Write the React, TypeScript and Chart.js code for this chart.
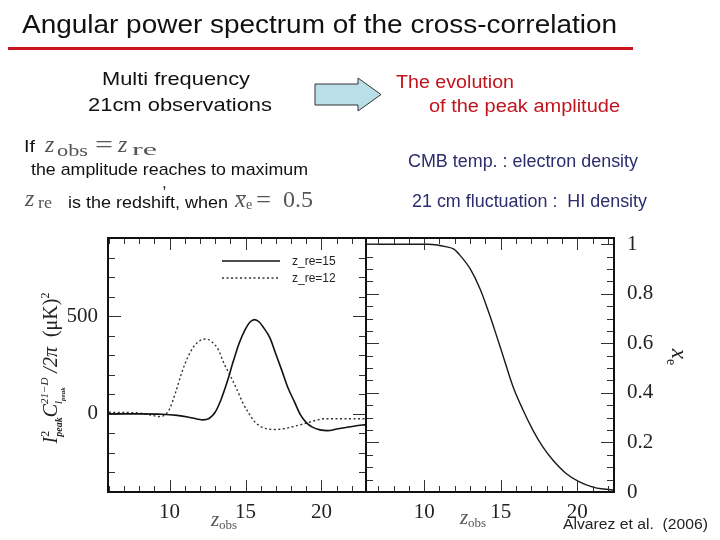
import React, { useEffect, useRef } from "react";
import { Chart, registerables } from "chart.js";
Chart.register(...registerables);

// ---------------- data ----------------
const seriesLabels = ["z_re=15", "z_re=12"];
const zSolid = [6, 8, 9.5, 10.5, 11.2, 11.8, 12.2, 12.6, 13.0, 13.4, 13.8, 14.2, 14.6, 15.0, 15.3, 15.6, 15.9, 16.2, 16.6, 17.0, 17.4, 17.8, 18.2, 18.6, 19.0, 19.4, 19.9, 20.4, 21.0, 21.6, 22.2, 22.93];
const ampSolid = [0, 0, -2, -8, -16, -26, -31, -24, 8, 75, 165, 270, 365, 435, 470, 482, 470, 440, 390, 305, 220, 132, 65, -3, -45, -68, -82, -86, -78, -70, -62, -55];
const zDotted = [6, 7, 8, 8.7, 9.3, 9.7, 10.0, 10.4, 10.8, 11.2, 11.6, 12.0, 12.4, 12.8, 13.2, 13.6, 14.0, 14.4, 14.8, 15.2, 15.6, 16.0, 16.5, 17.0, 17.6, 18.2, 18.8, 19.4, 19.8, 20.2, 21, 22, 22.93];
const ampDotted = [8, 7, 4, -5, -14, -5, 25, 110, 210, 290, 345, 375, 383, 368, 330, 255, 195, 130, 60, 5, -40, -65, -78, -80, -75, -64, -52, -38, -30, -25, -25, -25, -25];
const zXe = [6.2, 10.2, 10.86, 11.4, 11.94, 12.37, 13.01, 13.66, 14.3, 14.73, 15.16, 15.8, 16.45, 17.1, 17.74, 18.39, 19.25, 20.11, 20.97, 21.7, 22.4];
const xeValues = [1, 1, 0.997, 0.99, 0.98, 0.953, 0.9, 0.818, 0.71, 0.63, 0.548, 0.426, 0.332, 0.25, 0.183, 0.13, 0.076, 0.042, 0.021, 0.012, 0.008];
const zTickLabels = [10, 15, 20];
const ampTickLabels = [0, 500];
const xeTickLabels = [0, 0.2, 0.4, 0.6, 0.8, 1];

// ---------------- styling ----------------
const SERIF = '"Liberation Serif", "Times New Roman", serif';
const SANS = '"Liberation Sans", Arial, sans-serif';
const INK = "#111";
const MATH = "#555";

type Part = { t: string; font: string; dy?: number; mark?: boolean; back?: boolean; after?: boolean };

function drawRich(ctx: CanvasRenderingContext2D, parts: Part[], cx: number, cy: number, rot: number, color: string) {
  let cursor = 0, maxEnd = 0, markX = 0;
  const items: { p: Part; x: number }[] = [];
  for (const p of parts) {
    if (p.after) cursor = maxEnd;
    if (p.back) cursor = markX;
    if (p.mark) markX = cursor;
    ctx.font = p.font;
    const w = ctx.measureText(p.t).width;
    items.push({ p, x: cursor });
    cursor += w;
    maxEnd = Math.max(maxEnd, cursor);
  }
  ctx.save();
  ctx.translate(cx, cy);
  ctx.rotate(rot);
  ctx.fillStyle = color;
  ctx.textAlign = "left";
  ctx.textBaseline = "alphabetic";
  const x0 = -maxEnd / 2;
  for (const it of items) {
    ctx.font = it.p.font;
    ctx.fillText(it.p.t, x0 + it.x, it.p.dy || 0);
  }
  ctx.restore();
}

type TitleItem = { parts: Part[]; ax: "left" | "right"; dx: number; ay: "top" | "bottom"; dy: number; rot: number; color: string };

function makeTitlesPlugin(items: TitleItem[]) {
  return {
    id: "richTitles",
    afterDraw(chart: any) {
      const a = chart.chartArea;
      for (const it of items) {
        drawRich(chart.ctx, it.parts, a[it.ax] + it.dx, a[it.ay] + it.dy, it.rot, it.color);
      }
    },
  };
}

function makeFramePlugin(cfg: { xMinor: number; xMajor: number; yMinor: number; yMajor: number }) {
  return {
    id: "frameTicks",
    afterDatasetsDraw(chart: any) {
      const { ctx, chartArea: a, scales } = chart;
      const xs = scales.x, ys = scales.y;
      ctx.save();
      ctx.strokeStyle = "#333";
      ctx.lineWidth = 1;
      ctx.beginPath();
      const isMajor = (v: number, m: number) => Math.abs(v / m - Math.round(v / m)) < 1e-6;
      for (let k = Math.ceil(xs.min / cfg.xMinor - 1e-9); k <= Math.floor(xs.max / cfg.xMinor + 1e-9); k++) {
        const v = k * cfg.xMinor;
        const len = isMajor(v, cfg.xMajor) ? 12 : 6;
        const px = Math.round(xs.getPixelForValue(v)) + 0.5;
        ctx.moveTo(px, a.bottom); ctx.lineTo(px, a.bottom - len);
        ctx.moveTo(px, a.top); ctx.lineTo(px, a.top + len);
      }
      for (let k = Math.ceil(ys.min / cfg.yMinor - 1e-9); k <= Math.floor(ys.max / cfg.yMinor + 1e-9); k++) {
        const v = k * cfg.yMinor;
        const len = isMajor(v, cfg.yMajor) ? 13 : 7;
        const py = Math.round(ys.getPixelForValue(v)) + 0.5;
        ctx.moveTo(a.left, py); ctx.lineTo(a.left + len, py);
        ctx.moveTo(a.right, py); ctx.lineTo(a.right - len, py);
      }
      ctx.stroke();
      ctx.lineWidth = 2;
      ctx.strokeStyle = INK;
      ctx.strokeRect(a.left, a.top, a.right - a.left, a.bottom - a.top);
      ctx.restore();
    },
  };
}

function makeLegendPlugin(cfg: { left: number; top: number; len: number; gap: number; textGap: number }) {
  return {
    id: "inlineLegend",
    afterDatasetsDraw(chart: any) {
      const { ctx, chartArea: a } = chart;
      chart.data.datasets.forEach((ds: any, i: number) => {
        const y = a.top + cfg.top + i * cfg.gap;
        ctx.save();
        ctx.strokeStyle = ds.borderColor;
        ctx.lineWidth = ds.borderWidth;
        ctx.setLineDash(ds.borderDash || []);
        ctx.beginPath();
        ctx.moveTo(a.left + cfg.left, y);
        ctx.lineTo(a.left + cfg.left + cfg.len, y);
        ctx.stroke();
        ctx.setLineDash([]);
        ctx.fillStyle = "#222";
        ctx.font = `12px ${SANS}`;
        ctx.textBaseline = "middle";
        ctx.textAlign = "left";
        ctx.fillText(ds.label, a.left + cfg.left + cfg.len + cfg.textGap, y + 0.5);
        ctx.restore();
      });
    },
  };
}

const tickFont = { family: SERIF, size: 21 };
const zObsParts: Part[] = [
  { t: "z", font: `italic 21px ${SERIF}` },
  { t: "obs", font: `13px ${SERIF}`, dy: 3 },
];

function leftConfig(): any {
  return {
    type: "line",
    data: {
      datasets: [
        { label: seriesLabels[0], data: zSolid.map((z, i) => ({ x: z, y: ampSolid[i] })), borderColor: "#111", borderWidth: 1.6, pointRadius: 0, cubicInterpolationMode: "monotone", fill: false },
        { label: seriesLabels[1], data: zDotted.map((z, i) => ({ x: z, y: ampDotted[i] })), borderColor: "#333", borderWidth: 1.4, borderDash: [2, 2.5], pointRadius: 0, cubicInterpolationMode: "monotone", fill: false },
      ],
    },
    options: {
      responsive: false,
      animation: false,
      events: [],
      layout: { padding: { left: 68, top: 238, right: 354, bottom: 18 } },
      scales: {
        x: {
          type: "linear", min: 5.95, max: 22.93,
          afterBuildTicks: (s: any) => { s.ticks = zTickLabels.map((v) => ({ value: v })); },
          afterFit: (s: any) => { s.height = 30; },
          grid: { display: false, drawTicks: false }, border: { display: false },
          ticks: { font: tickFont, color: "#222", padding: 8, autoSkip: false, maxRotation: 0 },
        },
        y: {
          type: "linear", min: -400, max: 900,
          afterBuildTicks: (s: any) => { s.ticks = ampTickLabels.map((v) => ({ value: v })); },
          afterFit: (s: any) => { s.width = 40; },
          grid: { display: false, drawTicks: false }, border: { display: false },
          ticks: { font: tickFont, color: "#222", padding: 10, autoSkip: false },
        },
      },
      plugins: { legend: { display: false }, tooltip: { enabled: false } },
    },
    plugins: [
      makeFramePlugin({ xMinor: 1, xMajor: 5, yMinor: 100, yMajor: 500 }),
      makeLegendPlugin({ left: 114, top: 23, len: 58, gap: 17, textGap: 12 }),
      makeTitlesPlugin([
        { parts: zObsParts, ax: "left", dx: 116, ay: "bottom", dy: 34, rot: 0, color: MATH },
        {
          parts: [
            { t: "I", font: `italic 20px ${SERIF}` },
            { t: "2", font: `12px ${SERIF}`, dy: -8, mark: true },
            { t: "peak", font: `italic bold 10px ${SERIF}`, dy: 5, back: true },
            { t: "C", font: `italic 20px ${SERIF}`, after: true },
            { t: "21\u2212D", font: `italic 11px ${SERIF}`, dy: -9, mark: true },
            { t: "l", font: `italic 11px ${SERIF}`, dy: 5, back: true },
            { t: "peak", font: `italic bold 7px ${SERIF}`, dy: 8 },
            { t: " /2\u03c0", font: `italic 20px ${SERIF}`, after: true },
            { t: "  (\u03bcK)", font: `20px ${SERIF}` },
            { t: "2", font: `12px ${SERIF}`, dy: -8 },
          ],
          ax: "left", dx: -51, ay: "top", dy: 130, rot: -Math.PI / 2, color: "#222",
        },
      ]),
    ],
  };
}

function rightConfig(): any {
  return {
    type: "line",
    data: {
      datasets: [
        { label: "x_e", data: zXe.map((z, i) => ({ x: z, y: xeValues[i] })), borderColor: "#1a1a1a", borderWidth: 1.4, pointRadius: 0, cubicInterpolationMode: "monotone", fill: false },
      ],
    },
    options: {
      responsive: false,
      animation: false,
      events: [],
      layout: { padding: { left: 366, top: 238, right: 56, bottom: 18 } },
      scales: {
        x: {
          type: "linear", min: 6.2, max: 22.4,
          afterBuildTicks: (s: any) => { s.ticks = zTickLabels.map((v) => ({ value: v })); },
          afterFit: (s: any) => { s.height = 30; },
          grid: { display: false, drawTicks: false }, border: { display: false },
          ticks: { font: tickFont, color: "#222", padding: 8, autoSkip: false, maxRotation: 0 },
        },
        y: {
          type: "linear", position: "right", min: 0, max: 1.025,
          afterBuildTicks: (s: any) => { s.ticks = xeTickLabels.map((v) => ({ value: v })); },
          afterFit: (s: any) => { s.width = 50; },
          grid: { display: false, drawTicks: false }, border: { display: false },
          ticks: { font: tickFont, color: "#222", padding: 13, autoSkip: false, callback: (v: any) => String(Math.round(Number(v) * 10) / 10) },
        },
      },
      plugins: { legend: { display: false }, tooltip: { enabled: false } },
    },
    plugins: [
      makeFramePlugin({ xMinor: 1, xMajor: 5, yMinor: 0.05, yMajor: 0.2 }),
      makeTitlesPlugin([
        { parts: zObsParts, ax: "left", dx: 107, ay: "bottom", dy: 32, rot: 0, color: MATH },
        {
          parts: [
            { t: "x", font: `italic 23px ${SERIF}` },
            { t: "e", font: `14px ${SERIF}`, dy: 5 },
          ],
          ax: "right", dx: 58, ay: "top", dy: 119, rot: Math.PI / 2, color: "#222",
        },
      ]),
    ],
  };
}

// ---------------- slide text ----------------
let measureCtx: CanvasRenderingContext2D | null = null;
function measure(font: string, t: string) {
  if (!measureCtx) measureCtx = document.createElement("canvas").getContext("2d");
  if (!measureCtx) return 0;
  measureCtx.font = font;
  return measureCtx.measureText(t).width;
}

function Txt(props: { t: string; x: number; b: number; size: number; w?: number; family?: string; color?: string; italic?: boolean }) {
  const { t, x, b, size, w, family = SANS, color = INK, italic = false } = props;
  let sx = 1;
  if (w) {
    const m = measure(`${italic ? "italic " : ""}${size}px ${family}`, t);
    if (m > 0) sx = w / m;
  }
  return (
    <div
      style={{
        position: "absolute", left: x, top: b - 0.845 * size, fontSize: size, lineHeight: `${size}px`,
        fontFamily: family, fontStyle: italic ? "italic" : "normal", color, whiteSpace: "pre",
        transform: `scaleX(${sx})`, transformOrigin: "0 0",
      }}
    >
      {t}
    </div>
  );
}

const RED = "#c2141d";
const NAVY = "#2d2c6c";

export default function App() {
  const leftRef = useRef<HTMLCanvasElement>(null);
  const rightRef = useRef<HTMLCanvasElement>(null);
  useEffect(() => {
    const c2 = new Chart(rightRef.current as HTMLCanvasElement, rightConfig());
    const c1 = new Chart(leftRef.current as HTMLCanvasElement, leftConfig());
    return () => {
      c1.destroy();
      c2.destroy();
    };
  }, []);
  const canvasStyle: React.CSSProperties = { position: "absolute", left: 0, top: 0, width: 720, height: 540 };
  return (
    <div style={{ position: "fixed", left: 0, top: 0, width: 720, height: 540, background: "#fff", overflow: "hidden" }}>
      <canvas ref={rightRef} width={720} height={540} style={canvasStyle} />
      <canvas ref={leftRef} width={720} height={540} style={canvasStyle} />

      <Txt t="Angular power spectrum of the cross-correlation" x={22} b={33} size={25} w={595} />
      <div style={{ position: "absolute", left: 8, top: 47, width: 625, height: 3, background: "#c8141e" }} />

      <Txt t="Multi frequency" x={102} b={85} size={19} w={148} />
      <Txt t="21cm observations" x={88} b={111} size={19} w={184} />

      <svg style={{ position: "absolute", left: 310, top: 74 }} width={76} height={42}>
        <polygon points="5,10 48,10 48,4 71,20.5 48,37 48,31 5,31" fill="#b9e0e8" stroke="#333" strokeWidth={1} />
      </svg>

      <Txt t="The evolution" x={396} b={88} size={18} w={118} color={RED} />
      <Txt t="of the peak amplitude" x={429} b={112} size={18} w={191} color={RED} />

      <Txt t="If" x={24} b={152} size={17} w={11} />
      <Txt t="z" x={45} b={152} size={24} family={SERIF} italic color={MATH} />
      <Txt t="obs" x={57} b={156} size={17} w={31} family={SERIF} color={MATH} />
      <Txt t="=" x={95} b={152} size={24} w={18} family={SERIF} color={MATH} />
      <Txt t="z" x={118} b={152} size={24} family={SERIF} italic color={MATH} />
      <Txt t="re" x={132} b={155} size={17} w={25} family={SERIF} color={MATH} />

      <Txt t="the amplitude reaches to maximum" x={31} b={175} size={17} w={277} />
      <Txt t="," x={162} b={188} size={17} />

      <Txt t="z" x={25} b={206} size={24} family={SERIF} italic color={MATH} />
      <Txt t="re" x={38} b={209} size={16} w={14} family={SERIF} color={MATH} />
      <Txt t="is the redshift, when" x={68} b={208} size={17} w={160} />
      <div style={{ position: "absolute", left: 236, top: 195, width: 10, height: 1, background: MATH }} />
      <Txt t="x" x={235} b={207} size={24} family={SERIF} italic color={MATH} />
      <Txt t="e" x={246} b={210} size={14} family={SERIF} color={MATH} />
      <Txt t="=" x={256} b={207} size={24} w={15} family={SERIF} color={MATH} />
      <Txt t="0.5" x={283} b={207} size={24} w={30} family={SERIF} color={MATH} />

      <Txt t="CMB temp. : electron density" x={408} b={167} size={18} w={230} color={NAVY} />
      <Txt t="21 cm fluctuation :  HI density" x={412} b={207} size={18} w={235} color={NAVY} />

      <Txt t="Alvarez et al.  (2006)" x={563} b={529} size={15} w={145} color="#222" />
    </div>
  );
}
